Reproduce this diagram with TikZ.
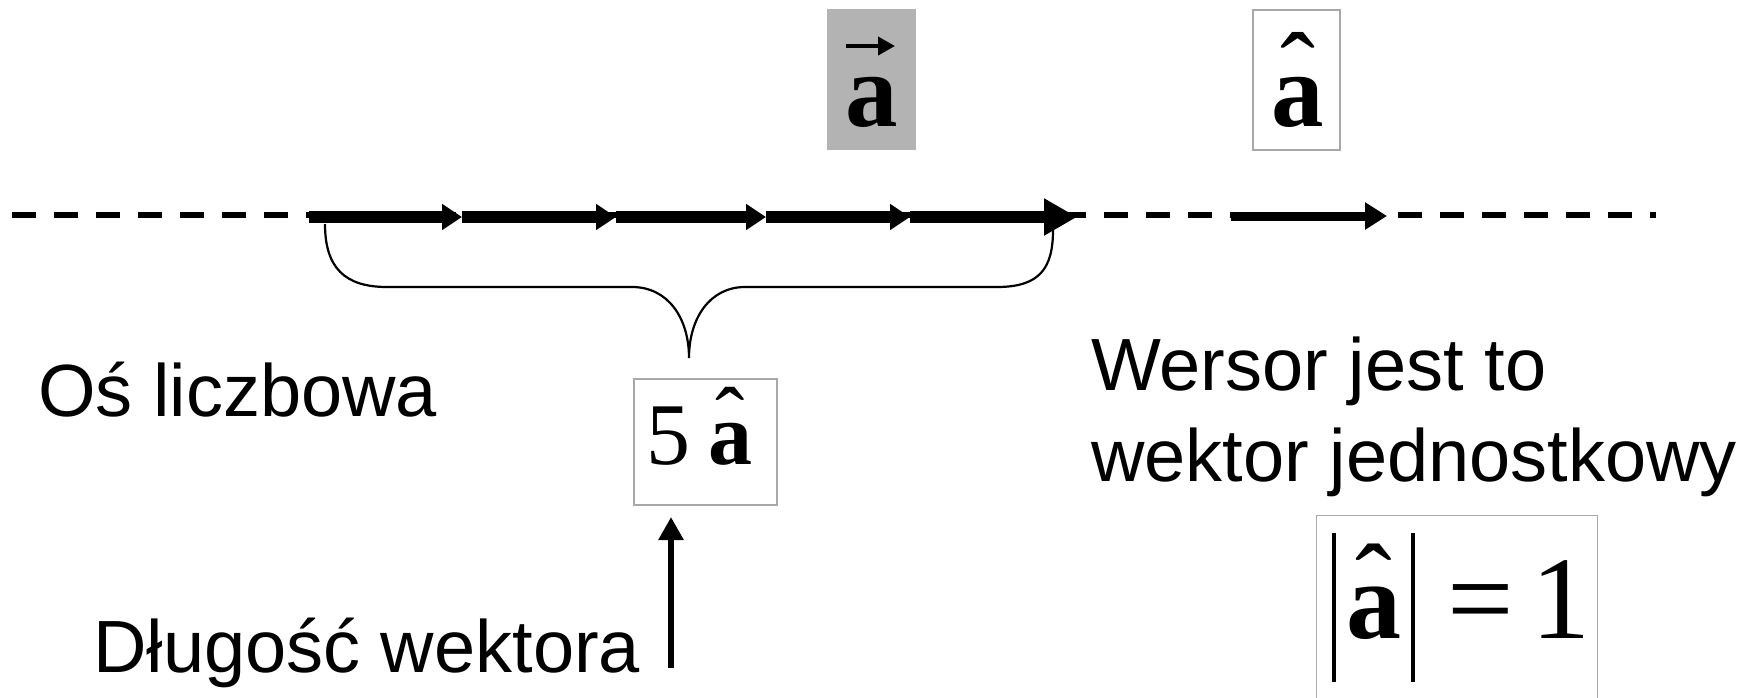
\documentclass[tikz,border=0pt]{standalone}
\usepackage{fontspec}
\setmainfont{Liberation Sans}
\newfontfamily\tms{Liberation Serif}
\usetikzlibrary{arrows.meta}
\definecolor{boxgray}{RGB}{179,179,179}
\definecolor{bordergray}{RGB}{168,168,168}
\newcommand{\hatA}[1]{\makebox[0pt][l]{\makebox[0.5em]{\mdseries\raisebox{#1}{ˆ}}}a}
\begin{document}
\begin{tikzpicture}[x=1pt,y=-1pt,
  lbl/.style={inner sep=0pt, anchor=base west, font=\fontsize{74}{89}\selectfont},
  boxplain/.style={draw=bordergray, line width=1.2pt, inner sep=0pt},
  bolda/.style={inner sep=0pt, anchor=base, font=\tms\bfseries\fontsize{105}{120}\selectfont},
  mathtxt/.style={inner sep=0pt, anchor=base west, font=\tms\fontsize{#1}{#1}\selectfont},
  mathbf/.style={inner sep=0pt, anchor=base west, font=\tms\bfseries\fontsize{#1}{#1}\selectfont},
  dashline/.style={line width=6pt, dash pattern=on 24pt off 18pt},
  seg/.style={line width=12pt, -{Triangle[length=20pt,width=25pt]}},
  bigseg/.style={line width=12pt, -{Triangle[length=33pt,width=35pt]}},
  unitarrow/.style={line width=9pt, -{Triangle[length=22pt,width=26pt]}},
  uparrow/.style={line width=6pt, -{Triangle[length=23pt,width=24pt]}},
  accarrow/.style={line width=4pt, -{Triangle[length=17pt,width=18pt]}},
  bracel/.style={line width=2.2pt},
  barline/.style={line width=4pt}
]
\useasboundingbox (0,0) rectangle (1753,697);
\clip (0,0) rectangle (1753,697);

% top symbols
\node[fill=boxgray, inner sep=0pt, minimum width=89pt, minimum height=141pt] (vbox) at (871.5,79.5) {};
\node[bolda] (va) at (872,126) {a};
\coordinate (acc0) at (846,46);
\coordinate (acc1) at (895,46);
\draw[accarrow] (acc0) -- (acc1);

\node[boxplain, minimum width=87pt, minimum height=140pt] (hbox) at (1296.5,80) {};
\node[bolda] (ha) at (1298,126) {\hatA{21pt}};

% number line
\coordinate (dl0) at (12,215);
\coordinate (dl1) at (1656,215);
\draw[dashline] (dl0) -- (dl1);

\coordinate (t0) at (309,217);
\coordinate (t1) at (462,217);
\coordinate (t2) at (616,217);
\coordinate (t3) at (766,217);
\coordinate (t4) at (910,217);
\coordinate (t5) at (1077,217);
\draw[seg] (t0) -- (t1);
\draw[seg] (t1) -- (t2);
\draw[seg] (t2) -- (t3);
\draw[seg] (t3) -- (t4);
\draw[bigseg] (t4) -- (t5);

\coordinate (u0) at (1231,216);
\coordinate (u1) at (1387,216);
\draw[unitarrow] (u0) -- (u1);

% brace
\coordinate (b0) at (325,224);
\coordinate (b1) at (1053,230);
\coordinate (bc) at (689,358);
\draw[bracel] (b0) .. controls (325,268) and (345,287) .. (387,287) -- (632,287)
  .. controls (668,287) and (689,318) .. (bc)
  .. controls (689,318) and (710,287) .. (745,287) -- (997,287)
  .. controls (1040,287) and (1053,268) .. (b1);

% 5 a box
\node[boxplain, minimum width=143pt, minimum height=126pt] (fivebox) at (705.5,442) {};
\node[mathtxt=88] (five) at (646,464) {5};
\node[mathbf=88] (fa) at (708,464) {\hatA{16pt}};

% up arrow
\coordinate (ua0) at (671,668);
\coordinate (ua1) at (671,517);
\draw[uparrow] (ua0) -- (ua1);

% labels
\node[lbl] (os) at (38,416) {Oś liczbowa};
\node[lbl] (dl) at (93,672) {Długość wektora};
\node[lbl] (w1) at (1091,390) {Wersor jest to};
\node[lbl] (w2) at (1091,481) {wektor jednostkowy};

% |a| = 1 box
\node[boxplain, minimum width=281pt, minimum height=220pt, anchor=north west] (eqbox) at (1316,515) {};
\coordinate (bl0) at (1334,533);
\coordinate (bl1) at (1334,682);
\coordinate (br0) at (1413,533);
\coordinate (br1) at (1413,682);
\draw[barline] (bl0) -- (bl1);
\draw[barline] (br0) -- (br1);
\node[mathbf=110] (ea) at (1346,638) {\hatA{18pt}};
\node[mathtxt=118] (eq) at (1447,638) {=};
\node[mathtxt=118] (one) at (1531,638) {1};
\end{tikzpicture}
\end{document}
